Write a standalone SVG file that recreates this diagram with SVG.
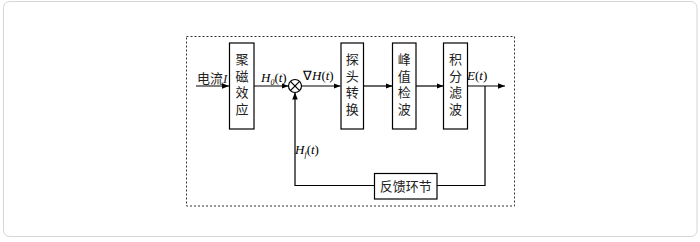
<svg xmlns="http://www.w3.org/2000/svg" width="700" height="242" viewBox="0 0 700 242">
<defs>
<marker id="ah" viewBox="0 0 10 10" refX="10" refY="5" markerWidth="7" markerHeight="7" markerUnits="userSpaceOnUse" orient="auto">
<path d="M0,1 L10,5 L0,9 Z" fill="#000"/>
</marker>
<style>
.box{fill:#fff;stroke:#000;stroke-width:1.2}
.ln{fill:none;stroke:#000;stroke-width:1.2}
.cn{font-family:"Noto Sans CJK SC",sans-serif;font-size:13px;fill:#222;text-anchor:middle}
.vt{font-family:"Noto Sans CJK SC",sans-serif;font-size:13px;fill:#222;text-anchor:middle;writing-mode:vertical-rl;letter-spacing:3.5px}
.mt{font-family:"Liberation Serif",serif;font-size:13px;font-style:italic;fill:#000}
</style>
</defs>
<rect x="0" y="0" width="700" height="242" fill="#fff"/>
<rect x="3.5" y="1.5" width="693.5" height="235" rx="6" fill="#fff" stroke="#d6d6d6" stroke-width="1"/>
<rect x="186.5" y="36.5" width="328" height="169.5" fill="none" stroke="#333" stroke-width="1" stroke-dasharray="2,2"/>

<g id="connectors">
<line class="ln" x1="196" y1="86" x2="229" y2="86" marker-end="url(#ah)"/>
<line class="ln" x1="254" y1="86" x2="288.5" y2="86" marker-end="url(#ah)"/>
<line class="ln" x1="301.5" y1="86" x2="340.5" y2="86" marker-end="url(#ah)"/>
<line class="ln" x1="363.5" y1="86" x2="392.5" y2="86" marker-end="url(#ah)"/>
<line class="ln" x1="416" y1="86" x2="443.5" y2="86" marker-end="url(#ah)"/>
<line class="ln" x1="467.5" y1="86" x2="505" y2="86" marker-end="url(#ah)"/>
<polyline class="ln" points="485,86 485,185.5 437,185.5"/>
<polyline class="ln" points="374.5,185.5 295,185.5 295,92.5" marker-end="url(#ah)"/>
</g>

<g id="n_input"><text class="cn" x="197" y="83" style="text-anchor:start">电流<tspan font-family="Liberation Serif" font-style="italic">I</tspan></text></g>

<g id="n_jucizx">
<rect class="box" x="229.5" y="43" width="24.5" height="86"/>
<text class="vt" x="242" y="86">聚磁效应</text>
</g>

<g id="n_sum">
<circle cx="295" cy="86" r="6.5" fill="#fff" stroke="#000" stroke-width="1.2"/>
<line class="ln" x1="290.4" y1="81.4" x2="299.6" y2="90.6"/>
<line class="ln" x1="299.6" y1="81.4" x2="290.4" y2="90.6"/>
</g>

<g id="l_h0"><text class="mt" x="261" y="82">H<tspan font-size="8" dy="3">0</tspan><tspan dy="-3" font-style="normal">(</tspan>t<tspan font-style="normal">)</tspan></text></g>
<g id="l_dh"><text class="mt" x="303" y="80"><tspan font-style="normal">∇</tspan>H<tspan font-style="normal">(</tspan>t<tspan font-style="normal">)</tspan></text></g>
<g id="l_e"><text class="mt" x="467" y="80">E<tspan font-style="normal">(</tspan>t<tspan font-style="normal">)</tspan></text></g>
<g id="l_hf"><text class="mt" x="295" y="154">H<tspan font-size="8" dy="3">f</tspan><tspan dy="-3" font-style="normal">(</tspan>t<tspan font-style="normal">)</tspan></text></g>

<g id="n_tantou">
<rect class="box" x="341" y="43" width="22.5" height="86"/>
<text class="vt" x="352.3" y="86">探头转换</text>
</g>

<g id="n_fengzhi">
<rect class="box" x="392.5" y="43" width="23.5" height="86"/>
<text class="vt" x="404.3" y="86">峰值检波</text>
</g>

<g id="n_jifen">
<rect class="box" x="443.5" y="43" width="24" height="86"/>
<text class="vt" x="455.5" y="86">积分滤波</text>
</g>

<g id="n_fankui">
<rect class="box" x="374.5" y="173.5" width="62.5" height="25.5"/>
<text class="cn" x="405.7" y="191">反馈环节</text>
</g>
</svg>
